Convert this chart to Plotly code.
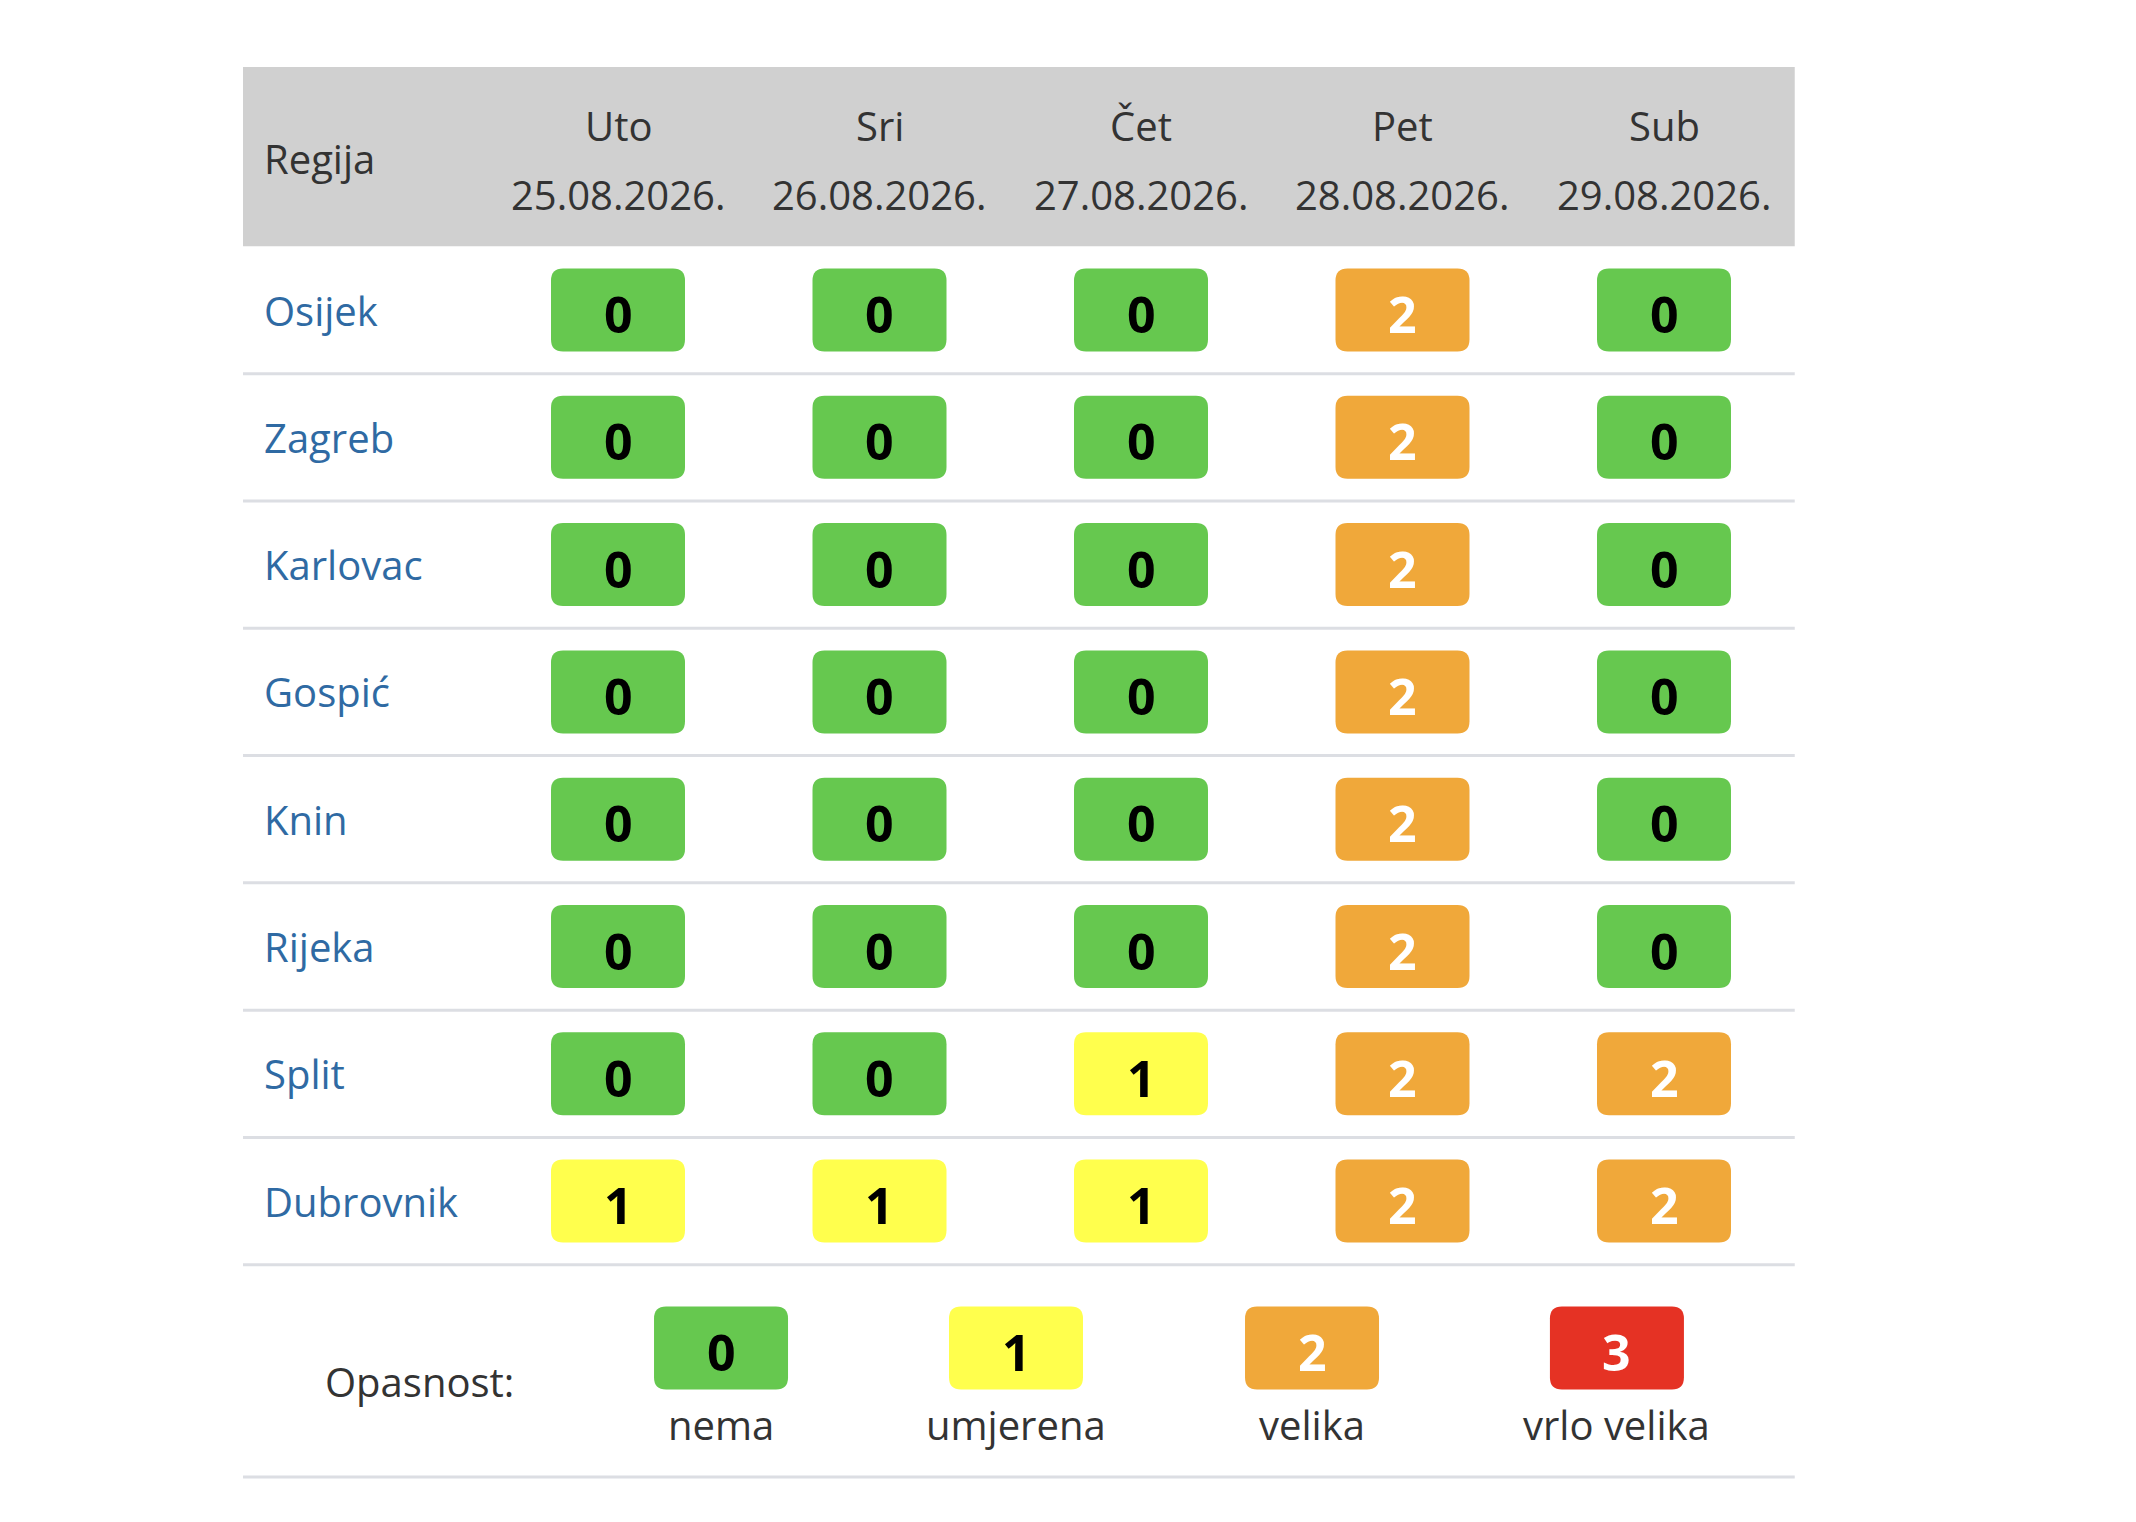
'''Tablica opasnosti od toplinskog vala po regijama'''
import plotly.graph_objects as go

# podaci
regions = ["Osijek", "Zagreb", "Karlovac", "Gospić", "Knin", "Rijeka", "Split", "Dubrovnik"]
days = ["Uto", "Sri", "Čet", "Pet", "Sub"]
dates = ["25.08.2026.", "26.08.2026.", "27.08.2026.", "28.08.2026.", "29.08.2026."]
levels = [
    [0, 0, 0, 2, 0],  # Osijek
    [0, 0, 0, 2, 0],  # Zagreb
    [0, 0, 0, 2, 0],  # Karlovac
    [0, 0, 0, 2, 0],  # Gospić
    [0, 0, 0, 2, 0],  # Knin
    [0, 0, 0, 2, 0],  # Rijeka
    [0, 0, 1, 2, 2],  # Split
    [1, 1, 1, 2, 2],  # Dubrovnik
]
legend_levels = [0, 1, 2, 3]
legend_labels = ["nema", "umjerena", "velika", "vrlo velika"]

# stil
FONT = "Open Sans"
BADGE_FILL = {0: "#66c84f", 1: "#ffff4d", 2: "#f0a83a", 3: "#e53224"}
BADGE_TEXT = {0: "#000000", 1: "#000000", 2: "#ffffff", 3: "#ffffff"}
LINK = "#2f6aa3"
DARK = "#333333"
GRID = "#dcdee3"

# jedinica x = 261.5 px (stupac), jedinica y = 127.3 px (redak)
W, H = 2136, 1522
XU, X0 = 261.5, 618
YU, Y0 = 127.3, 310
LEFT, RIGHT = -1.434, 4.5
BW, BH = 67 / XU, 41.5 / YU          # pola sirine/visine oznake
RX, RY = 12 / XU, 12 / YU            # zaobljenje kutova
LEGEND_X = [0.394, 1.522, 2.654, 3.820]
LEGEND_Y = 8.154


def badge_path(xc, yc):
    '''zaobljeni pravokutnik oko (xc, yc) u koordinatama osi'''
    x0, x1 = xc - BW, xc + BW
    y0, y1 = yc - BH, yc + BH
    return (f"M {x0+RX},{y0} L {x1-RX},{y0} Q {x1},{y0} {x1},{y0+RY} "
            f"L {x1},{y1-RY} Q {x1},{y1} {x1-RX},{y1} L {x0+RX},{y1} "
            f"Q {x0},{y1} {x0},{y1-RY} L {x0},{y0+RY} Q {x0},{y0} {x0+RX},{y0} Z")


def label(x, y, text, color=DARK, anchor="center"):
    return dict(x=x, y=y, text=text, xanchor=anchor, yanchor="middle", showarrow=False,
                font=dict(family=FONT, size=40, color=color))


def badge(xc, yc, lv):
    '''oznaka razine: obojani pravokutnik + broj'''
    shapes.append(dict(type="path", xref="x", yref="y", path=badge_path(xc, yc),
                       fillcolor=BADGE_FILL[lv], line_width=0, layer="below"))
    annotations.append(dict(x=xc, y=yc, text=str(lv), showarrow=False, yshift=-4,
                            xanchor="center", yanchor="middle",
                            font=dict(family=FONT, size=50, color=BADGE_TEXT[lv], weight=700)))


shapes = []
annotations = []

# zaglavlje
shapes.append(dict(type="rect", xref="x", yref="y", x0=LEFT, x1=RIGHT, y0=-1.909, y1=-0.5,
                   fillcolor="#d0d0d0", line_width=0, layer="below"))
annotations.append(label(-1.36, -1.19, "Regija", anchor="left"))
for j, (d, dt) in enumerate(zip(days, dates)):
    annotations.append(label(j, -1.45, d))
    annotations.append(label(j, -0.91, dt))

# redci
for i, name in enumerate(regions):
    annotations.append(label(-1.36, i, name, color=LINK, anchor="left"))
    shapes.append(dict(type="line", xref="x", yref="y", x0=LEFT, x1=RIGHT, y0=i + 0.5, y1=i + 0.5,
                       line=dict(color=GRID, width=3), layer="below"))
    for j, lv in enumerate(levels[i]):
        badge(j, i, lv)

# legenda
annotations.append(label(-0.761, 8.42, "Opasnost:"))
for lx, lv, lab in zip(LEGEND_X, legend_levels, legend_labels):
    badge(lx, LEGEND_Y, lv)
    annotations.append(label(lx, 8.755, lab))
shapes.append(dict(type="line", xref="x", yref="y", x0=LEFT, x1=RIGHT, y0=9.167, y1=9.167,
                   line=dict(color=GRID, width=3), layer="below"))

fig = go.Figure()
# nevidljivi trag da osi postoje
fig.add_trace(go.Scatter(x=[0, 4], y=[0, 7], mode="markers", marker_opacity=0,
                         hoverinfo="skip", showlegend=False))

fig.update_layout(
    width=W, height=H,
    margin=dict(l=0, r=0, t=0, b=0),
    paper_bgcolor="white", plot_bgcolor="white",
    xaxis=dict(visible=False, range=[-X0 / XU, (W - X0) / XU], fixedrange=True),
    yaxis=dict(visible=False, range=[(H - Y0) / YU, -Y0 / YU], fixedrange=True),
    shapes=shapes,
    annotations=annotations,
    showlegend=False,
)

fig.write_html("out.html", config={"displayModeBar": False},
               post_script="document.body.style.margin='0';")
